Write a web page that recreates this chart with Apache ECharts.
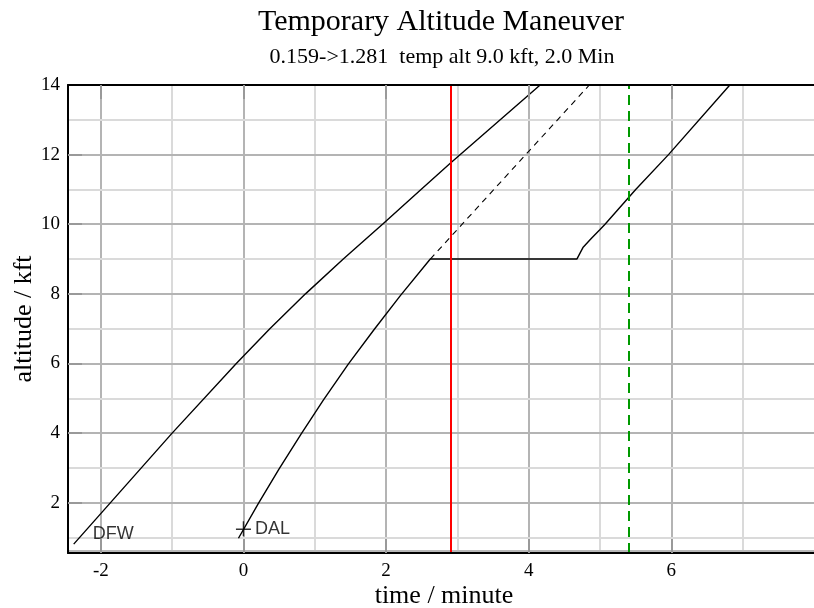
<!DOCTYPE html>
<html>
<head>
<meta charset="utf-8">
<script src="https://cdn.jsdelivr.net/npm/echarts@6/dist/echarts.min.js"></script>
<style>
html,body{margin:0;padding:0;background:#fff;}
#chart{width:814px;height:608px;}
</style>
</head>
<body>
<div id="chart"></div>
<script>
// ---- data ----
const xTickLabels = [-2, 0, 2, 4, 6];
const yTickLabels = [2, 4, 6, 8, 10, 12, 14];
const xGridMajor = [-2, 0, 2, 4, 6];
const xGridMinor = [-1, 1, 3, 5, 7];
const yGridMajor = [2, 4, 6, 8, 10, 12];
const yGridMinor = [1, 3, 5, 7, 9, 11, 13];

const dfwX = [-2.38, -1.0, -0.1, 0.37, 0.87, 1.40, 1.95, 2.49, 2.90, 4.16];
const dfwY = [0.81, 4.0, 6.0, 7.0, 8.0, 9.0, 10.0, 11.0, 11.75, 14.0];

const dalX = [-0.07, 0.21, 0.50, 0.81, 1.12, 1.47, 1.83, 2.20, 2.62, 4.675, 4.76, 4.88, 5.0, 5.07, 5.50, 5.96, 6.82];
const dalY = [0.98, 1.98, 2.97, 3.98, 4.95, 5.98, 6.97, 7.95, 9.0, 9.0, 9.33, 9.6, 9.85, 10.0, 11.0, 12.0, 14.0];

const directX = [2.62, 4.85];
const directY = [9.0, 14.0];

const dalMarkX = [0];
const dalMarkY = [1.25];

const redX = [2.90];
const greenX = [5.40];
const bottomBandY = [0.62];

const xMin = -2.46, xMax = 8, yMin = 0.556, yMax = 14;

const SERIF = '"Liberation Serif", "Times New Roman", serif';
const SANS = '"Liberation Sans", Arial, sans-serif';

function zip(xs, ys) { return xs.map((x, i) => [x, ys[i]]); }

const gridLines = [];
xGridMajor.forEach(v => gridLines.push({ xAxis: v, lineStyle: { color: '#b4b4b4', width: 2, type: 'solid' } }));
xGridMinor.forEach(v => gridLines.push({ xAxis: v, lineStyle: { color: '#dadada', width: 2, type: 'solid' } }));
yGridMajor.forEach(v => gridLines.push({ yAxis: v, lineStyle: { color: '#b4b4b4', width: 2, type: 'solid' } }));
yGridMinor.forEach(v => gridLines.push({ yAxis: v, lineStyle: { color: '#dadada', width: 2, type: 'solid' } }));
bottomBandY.forEach(v => gridLines.push({ yAxis: v, lineStyle: { color: '#b8b8b8', width: 3, type: 'solid' } }));

const chart = echarts.init(document.getElementById('chart'), null, { renderer: 'canvas' });

const axisCommon = {
  type: 'value',
  splitLine: { show: false },
  axisLine: { show: true, onZero: false, lineStyle: { color: '#000', width: 2 } },
  z: 10
};

chart.setOption({
  animation: false,
  backgroundColor: '#fff',
  grid: { left: 68, right: -6, top: 85, bottom: 55, containLabel: false },
  xAxis: [
    Object.assign({}, axisCommon, {
      min: xMin, max: xMax, position: 'bottom',
      axisTick: { show: true, inside: true, length: 14, customValues: xGridMajor, lineStyle: { color: '#999', width: 2 } },
      axisLabel: { show: true, customValues: xTickLabels, margin: 9, color: '#000', fontFamily: SERIF, fontSize: 19 }
    }),
    Object.assign({}, axisCommon, {
      min: xMin, max: xMax, position: 'top',
      axisTick: { show: true, inside: true, length: 14, customValues: xGridMajor, lineStyle: { color: '#999', width: 2 } },
      axisLabel: { show: false }
    })
  ],
  yAxis: [
    Object.assign({}, axisCommon, {
      min: yMin, max: yMax,
      axisTick: { show: true, inside: true, length: 14, customValues: yGridMajor, lineStyle: { color: '#999', width: 2 } },
      axisLabel: { show: true, customValues: yTickLabels, margin: 8, color: '#000', fontFamily: SERIF, fontSize: 19 }
    })
  ],
  graphic: [
    { type: 'text', x: 441, y: 22, style: { text: 'Temporary Altitude Maneuver', fontFamily: SERIF, fontSize: 30, fill: '#000', align: 'center', verticalAlign: 'middle' } },
    { type: 'text', x: 442, y: 57, style: { text: '0.159->1.281  temp alt 9.0 kft, 2.0 Min', fontFamily: SERIF, fontSize: 22, fill: '#000', align: 'center', verticalAlign: 'middle' } },
    { type: 'text', x: 444, y: 596, style: { text: 'time / minute', fontFamily: SERIF, fontSize: 26, fill: '#000', align: 'center', verticalAlign: 'middle' } },
    { type: 'text', x: 24, y: 319, rotation: Math.PI / 2, style: { text: 'altitude / kft', fontFamily: SERIF, fontSize: 26, fill: '#000', align: 'center', verticalAlign: 'middle' } }
  ],
  series: [
    {
      name: 'grid', type: 'line', data: [], z: 1, silent: true,
      markLine: { z: 1, silent: true, symbol: ['none', 'none'], label: { show: false }, data: gridLines, animation: false }
    },
    {
      name: 'DFW', type: 'line', data: zip(dfwX, dfwY), showSymbol: false, z: 3,
      lineStyle: { color: '#000', width: 1.4 }
    },
    {
      name: 'DAL', type: 'line', data: zip(dalX, dalY), showSymbol: false, z: 3,
      lineStyle: { color: '#000', width: 1.4 }
    },
    {
      name: 'direct', type: 'line', data: zip(directX, directY), showSymbol: false, z: 3,
      lineStyle: { color: '#000', width: 1.1, type: [6, 5] }
    },
    {
      name: 'refs', type: 'line', data: [], z: 4, silent: true,
      markLine: {
        z: 4, silent: true, symbol: ['none', 'none'], label: { show: false }, animation: false,
        data: [
          ...redX.map(v => ({ xAxis: v, lineStyle: { color: '#ff0000', width: 2, type: 'solid' } })),
          ...greenX.map(v => ({ xAxis: v, lineStyle: { color: '#009900', width: 2, type: [10, 6] } }))
        ]
      }
    },
    {
      name: 'DFWlabel', type: 'scatter', z: 5, symbolSize: 0,
      data: [[dfwX[0], dfwY[0]]],
      label: { show: true, formatter: 'DFW', position: 'right', offset: [14, -10], color: '#000', fontFamily: SANS, fontSize: 18 }
    },
    {
      name: 'DALmark', type: 'scatter', z: 5, symbolSize: 15,
      symbol: 'path://M0,7.2h15v1.4h-15z M6.8,0h1.4v15h-1.4z',
      itemStyle: { color: '#000' },
      data: zip(dalMarkX, dalMarkY),
      label: { show: true, formatter: 'DAL', position: 'right', distance: 4, color: '#000', fontFamily: SANS, fontSize: 18 }
    }
  ]
});
</script>
</body>
</html>
